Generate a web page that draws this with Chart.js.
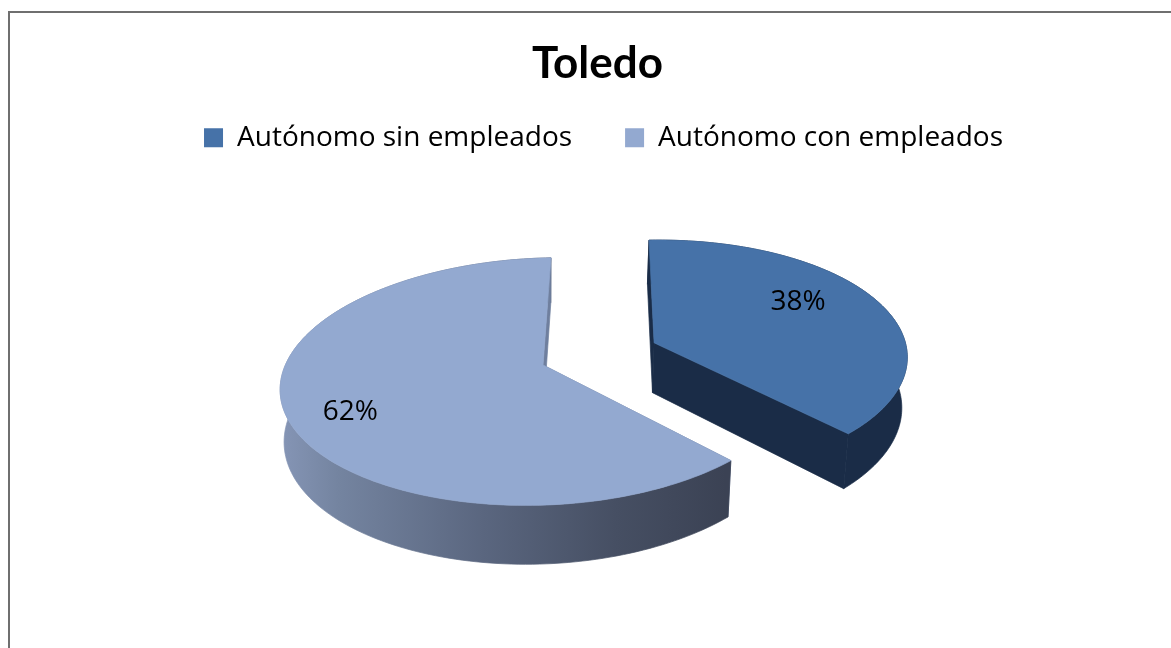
<!DOCTYPE html>
<html><head><meta charset="utf-8">
<style>
html,body{margin:0;padding:0;background:#fff;overflow:hidden}
#wrap{position:relative;width:1171px;height:648px}
#frame{position:absolute;left:8px;top:11px;width:1163px;height:637px;border-left:2px solid #6f6f6f;border-top:2px solid #6f6f6f;box-sizing:border-box;pointer-events:none}
canvas{position:absolute;left:0;top:0}
</style>
<script src="https://cdn.jsdelivr.net/npm/chart.js@4"></script>
</head><body><div id="wrap"><div id="frame"></div><canvas id="c" width="1171" height="648"></canvas></div>
<script>
const chartTitle = "Toledo";
const categories = ["Autónomo sin empleados", "Autónomo con empleados"];
const seriesValues = [38, 62];
const topColors = ["#4672A8", "#93A9D0"];
const wallColors = ["#1A2C47", null];
const explode = [123, 0];
const FONT = "'Open Sans', Lato, sans-serif";
const TITLE_FONT = "Lato, sans-serif";

// projection of the pie plane into the tilted view
const CX = 543, CY = 365, TILT = 0.462, PERSP = 0.134, SIDE = 0.009, WIDE = 0.983, SHEAR = 8, DEPTH = 51, TAPER = 0.015;
const labelPlace = [{r:0.70, shift:-8}, {r:0.78, shift:-5}];

function project(R, u, v, z){
  const w = 1 - PERSP * v + SIDE * u, s = 1 - TAPER * z;
  return [CX + WIDE * R * u * s / w, CY + (TILT * R * v + DEPTH * z) / w - SHEAR * u];
}
function poly(ctx, pts){
  ctx.beginPath();
  pts.forEach((p,i)=> i ? ctx.lineTo(p[0],p[1]) : ctx.moveTo(p[0],p[1]));
  ctx.closePath();
}
const tiltedPie = {
  id:"tiltedPie",
  afterLayout(chart){
    const L = chart.legend;
    L.left += 6; L.right += 6; L.top -= 19; L.bottom -= 19;
  },
  beforeDatasetsDraw(chart){
    const ctx = chart.ctx, arcs = chart.getDatasetMeta(0).data;
    const shapes = arcs.map((el,i)=>{
      const R = el.outerRadius, a0 = el.startAngle, a1 = el.endAngle, mid = (a0+a1)/2;
      const off = (el.options.offset||0)/R, ox = off*Math.cos(mid), oy = off*Math.sin(mid);
      const steps = 160, rim = [];
      for(let k=0;k<=steps;k++){ const a=a0+(a1-a0)*k/steps; rim.push([ox+Math.cos(a), oy+Math.sin(a)]); }
      return {el,i,R,a0,a1,mid,ox,oy,rim};
    });
    ctx.lineJoin = "round";
    shapes.slice().reverse().forEach(s=>{
      const {R,ox,oy,rim,i} = s;
      const first = rim[0], last = rim[rim.length-1];
      let fill = wallColors[i];
      if(!fill){
        const g = ctx.createLinearGradient(CX-258,0,CX+183,0);
        g.addColorStop(0,"#8494B4"); g.addColorStop(0.12,"#7484A0");
        g.addColorStop(0.45,"#5A667F"); g.addColorStop(0.75,"#464F63"); g.addColorStop(1,"#3B4254");
        fill = g;
      }
      ctx.lineWidth = 0.7;
      const faceFill = i===1 ? "#6F7F9E" : fill;
      const face = e => {
        ctx.fillStyle = faceFill; ctx.strokeStyle = faceFill;
        poly(ctx,[project(R,ox,oy,0),project(R,e[0],e[1],0),project(R,e[0],e[1],1),project(R,ox,oy,1)]);
        ctx.fill(); ctx.stroke();
      };
      // flat face at the start of the rim, then the outer wall, then the face at its end
      face(first);
      ctx.fillStyle = fill; ctx.strokeStyle = fill;
      const wall = rim.map(p=>project(R,p[0],p[1],0)).concat(rim.slice().reverse().map(p=>project(R,p[0],p[1],1)));
      poly(ctx,wall); ctx.fill(); ctx.stroke();
      face(last);
      // top
      const topFill = s.el.options.backgroundColor;
      ctx.fillStyle = topFill; ctx.strokeStyle = topFill;
      poly(ctx,[project(R,ox,oy,0)].concat(rim.map(p=>project(R,p[0],p[1],0))));
      ctx.fill(); ctx.stroke();
    });
    ctx.fillStyle="#000"; ctx.font="28px "+FONT; ctx.textAlign="center"; ctx.textBaseline="middle";
    shapes.forEach(s=>{
      const a = s.mid + labelPlace[s.i].shift*Math.PI/180, r = labelPlace[s.i].r;
      const p = project(s.R, s.ox + r*Math.cos(a), s.oy + r*Math.sin(a), 0);
      ctx.fillText(seriesValues[s.i]+"%", p[0], p[1]);
    });
    return false;
  }
};
new Chart(document.getElementById("c"),{
  type:"pie",
  data:{labels:categories,datasets:[{data:seriesValues,backgroundColor:topColors,offset:explode,borderWidth:0,radius:262.6}]},
  options:{
    responsive:false,animation:false,rotation:2,
    layout:{padding:{left:24,top:0,right:0,bottom:0}},
    plugins:{
      tooltip:{enabled:false},
      title:{display:true,text:chartTitle,color:"#000",font:{family:TITLE_FONT,size:44,weight:"bold"},padding:{top:37,bottom:0}},
      legend:{position:"top",labels:{color:"#000",boxWidth:19,boxHeight:19,padding:53,font:{family:FONT,size:28}}}
    }
  },
  plugins:[tiltedPie]
});
</script></body></html>
